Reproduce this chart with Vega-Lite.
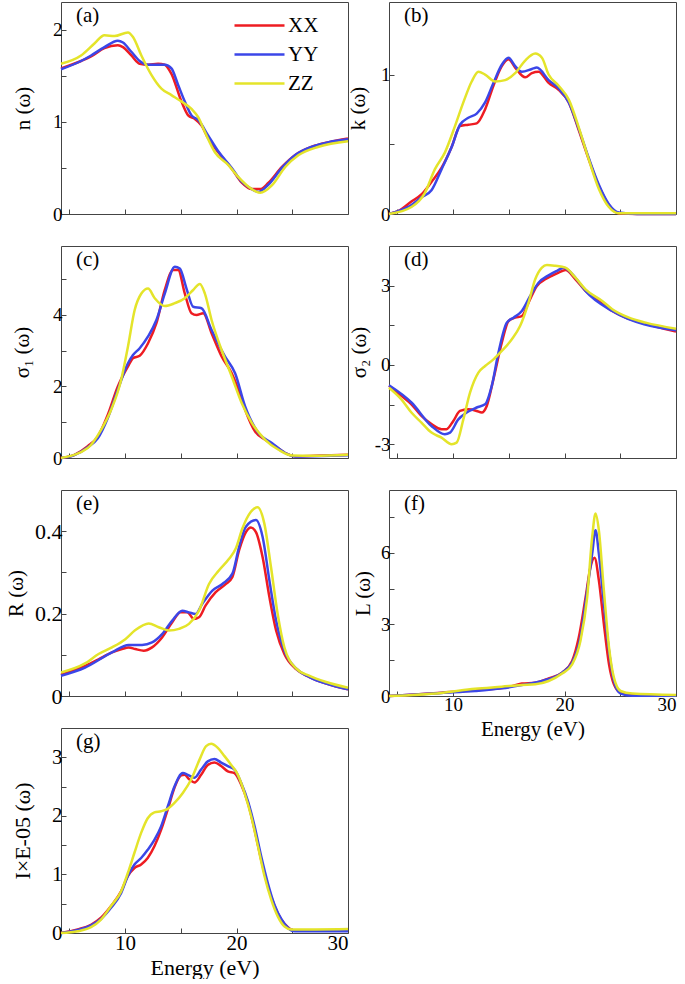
{
"$schema": "https://vega.github.io/schema/vega-lite/v6.json",
"padding": {"left": 5, "top": 1, "right": 0, "bottom": 0},
"columns": 2,
"bounds": "flush",
"align": "each",
"spacing": {"row": 32, "column": 41},
"resolve": {"legend": {"color": "independent"}},
"config": {
  "font": "Liberation Serif",
  "view": {"stroke": "#444", "strokeWidth": 1},
  "axis": {"grid": false, "domain": false, "tickSize": -5, "tickColor": "#444", "labelFont": "Liberation Serif", "labelFontSize": 19, "labelColor": "#000", "titleFont": "Liberation Serif", "titleFontSize": 21, "titleFontWeight": "normal", "titleColor": "#000", "labelPadding": 4},
  "title": {"font": "Liberation Serif", "fontSize": 21, "fontWeight": "normal", "anchor": "start", "frame": "group", "offset": -24, "dx": 15, "color": "#000"},
  "line": {"strokeWidth": 2.5, "interpolate": "monotone"}
},
"datasets": {
"a": [
{"E":4.25,"s":"XX","v":1.58},{"E":6.05,"s":"XX","v":1.66},{"E":6.95,"s":"XX","v":1.71},{"E":8.15,"s":"XX","v":1.80},{"E":9.35,"s":"XX","v":1.83},{"E":9.81,"s":"XX","v":1.81},{"E":10.56,"s":"XX","v":1.72},{"E":11.31,"s":"XX","v":1.63},{"E":12.06,"s":"XX","v":1.62},{"E":12.96,"s":"XX","v":1.63},{"E":13.56,"s":"XX","v":1.62},{"E":14.16,"s":"XX","v":1.52},{"E":15.06,"s":"XX","v":1.22},{"E":15.66,"s":"XX","v":1.07},{"E":16.26,"s":"XX","v":1.03},{"E":16.86,"s":"XX","v":0.96},{"E":17.46,"s":"XX","v":0.82},{"E":18.36,"s":"XX","v":0.67},{"E":19.57,"s":"XX","v":0.49},{"E":20.47,"s":"XX","v":0.34},{"E":21.37,"s":"XX","v":0.27},{"E":22.12,"s":"XX","v":0.27},{"E":22.87,"s":"XX","v":0.34},{"E":24.07,"s":"XX","v":0.51},{"E":25.27,"s":"XX","v":0.64},{"E":26.77,"s":"XX","v":0.73},{"E":28.27,"s":"XX","v":0.78},{"E":30,"s":"XX","v":0.82},
{"E":4.25,"s":"YY","v":1.57},{"E":6.05,"s":"YY","v":1.66},{"E":6.95,"s":"YY","v":1.72},{"E":8.15,"s":"YY","v":1.81},{"E":9.35,"s":"YY","v":1.88},{"E":9.81,"s":"YY","v":1.86},{"E":10.56,"s":"YY","v":1.76},{"E":11.31,"s":"YY","v":1.66},{"E":12.06,"s":"YY","v":1.62},{"E":12.96,"s":"YY","v":1.62},{"E":13.56,"s":"YY","v":1.62},{"E":14.16,"s":"YY","v":1.58},{"E":14.76,"s":"YY","v":1.40},{"E":15.36,"s":"YY","v":1.22},{"E":15.96,"s":"YY","v":1.07},{"E":16.56,"s":"YY","v":1.02},{"E":17.46,"s":"YY","v":0.85},{"E":18.36,"s":"YY","v":0.68},{"E":19.57,"s":"YY","v":0.50},{"E":20.47,"s":"YY","v":0.35},{"E":21.37,"s":"YY","v":0.27},{"E":21.97,"s":"YY","v":0.24},{"E":22.87,"s":"YY","v":0.32},{"E":24.07,"s":"YY","v":0.50},{"E":25.27,"s":"YY","v":0.64},{"E":26.77,"s":"YY","v":0.73},{"E":28.27,"s":"YY","v":0.78},{"E":30,"s":"YY","v":0.81},
{"E":4.25,"s":"ZZ","v":1.63},{"E":6.05,"s":"ZZ","v":1.72},{"E":7.25,"s":"ZZ","v":1.85},{"E":8.15,"s":"ZZ","v":1.94},{"E":9.05,"s":"ZZ","v":1.93},{"E":10.26,"s":"ZZ","v":1.97},{"E":10.71,"s":"ZZ","v":1.92},{"E":11.46,"s":"ZZ","v":1.72},{"E":12.36,"s":"ZZ","v":1.51},{"E":13.26,"s":"ZZ","v":1.36},{"E":14.16,"s":"ZZ","v":1.29},{"E":15.06,"s":"ZZ","v":1.22},{"E":15.96,"s":"ZZ","v":1.14},{"E":16.56,"s":"ZZ","v":1.05},{"E":17.16,"s":"ZZ","v":0.89},{"E":18.06,"s":"ZZ","v":0.67},{"E":19.27,"s":"ZZ","v":0.53},{"E":20.17,"s":"ZZ","v":0.40},{"E":21.37,"s":"ZZ","v":0.27},{"E":22.12,"s":"ZZ","v":0.23},{"E":23.17,"s":"ZZ","v":0.31},{"E":24.37,"s":"ZZ","v":0.51},{"E":25.57,"s":"ZZ","v":0.64},{"E":27.37,"s":"ZZ","v":0.73},{"E":30,"s":"ZZ","v":0.79}
],
"b": [
{"E":4.25,"s":"XX","v":0},{"E":5.06,"s":"XX","v":0.02},{"E":6.26,"s":"XX","v":0.09},{"E":7.16,"s":"XX","v":0.14},{"E":8.06,"s":"XX","v":0.23},{"E":8.96,"s":"XX","v":0.33},{"E":9.87,"s":"XX","v":0.48},{"E":10.62,"s":"XX","v":0.63},{"E":11.37,"s":"XX","v":0.64},{"E":12.12,"s":"XX","v":0.65},{"E":12.87,"s":"XX","v":0.75},{"E":13.62,"s":"XX","v":0.92},{"E":14.37,"s":"XX","v":1.06},{"E":14.97,"s":"XX","v":1.11},{"E":15.57,"s":"XX","v":1.05},{"E":16.47,"s":"XX","v":0.98},{"E":17.07,"s":"XX","v":1.01},{"E":17.67,"s":"XX","v":1.02},{"E":18.57,"s":"XX","v":0.94},{"E":19.47,"s":"XX","v":0.89},{"E":20.38,"s":"XX","v":0.80},{"E":21.28,"s":"XX","v":0.60},{"E":22.18,"s":"XX","v":0.39},{"E":23.08,"s":"XX","v":0.20},{"E":23.98,"s":"XX","v":0.065},{"E":24.88,"s":"XX","v":0.005},{"E":26.5,"s":"XX","v":0},{"E":30,"s":"XX","v":0},
{"E":4.25,"s":"YY","v":0},{"E":5.06,"s":"YY","v":0.02},{"E":6.26,"s":"YY","v":0.065},{"E":7.16,"s":"YY","v":0.12},{"E":8.06,"s":"YY","v":0.17},{"E":8.96,"s":"YY","v":0.32},{"E":9.87,"s":"YY","v":0.48},{"E":10.62,"s":"YY","v":0.64},{"E":11.37,"s":"YY","v":0.69},{"E":12.12,"s":"YY","v":0.72},{"E":12.87,"s":"YY","v":0.80},{"E":13.62,"s":"YY","v":0.94},{"E":14.37,"s":"YY","v":1.07},{"E":14.97,"s":"YY","v":1.12},{"E":15.57,"s":"YY","v":1.06},{"E":16.17,"s":"YY","v":1.02},{"E":17.07,"s":"YY","v":1.04},{"E":17.52,"s":"YY","v":1.05},{"E":18.57,"s":"YY","v":0.96},{"E":19.47,"s":"YY","v":0.90},{"E":20.38,"s":"YY","v":0.80},{"E":21.28,"s":"YY","v":0.61},{"E":22.18,"s":"YY","v":0.40},{"E":23.08,"s":"YY","v":0.21},{"E":23.98,"s":"YY","v":0.07},{"E":24.88,"s":"YY","v":0.01},{"E":26.5,"s":"YY","v":0},{"E":30,"s":"YY","v":0},
{"E":4.25,"s":"ZZ","v":0},{"E":6.26,"s":"ZZ","v":0.05},{"E":7.46,"s":"ZZ","v":0.15},{"E":8.36,"s":"ZZ","v":0.32},{"E":9.26,"s":"ZZ","v":0.44},{"E":10.17,"s":"ZZ","v":0.63},{"E":10.92,"s":"ZZ","v":0.80},{"E":11.67,"s":"ZZ","v":0.95},{"E":12.27,"s":"ZZ","v":1.02},{"E":12.87,"s":"ZZ","v":1.00},{"E":13.77,"s":"ZZ","v":0.95},{"E":14.67,"s":"ZZ","v":0.96},{"E":15.57,"s":"ZZ","v":1.01},{"E":16.47,"s":"ZZ","v":1.10},{"E":17.37,"s":"ZZ","v":1.15},{"E":17.97,"s":"ZZ","v":1.12},{"E":18.57,"s":"ZZ","v":1.00},{"E":19.47,"s":"ZZ","v":0.92},{"E":20.38,"s":"ZZ","v":0.82},{"E":21.28,"s":"ZZ","v":0.62},{"E":22.18,"s":"ZZ","v":0.39},{"E":23.08,"s":"ZZ","v":0.18},{"E":23.98,"s":"ZZ","v":0.05},{"E":24.88,"s":"ZZ","v":0.005},{"E":30,"s":"ZZ","v":0.005}
],
"c": [
{"E":4.25,"s":"XX","v":0},{"E":5.45,"s":"XX","v":0.09},{"E":6.65,"s":"XX","v":0.33},{"E":7.55,"s":"XX","v":0.6},{"E":8.45,"s":"XX","v":1.21},{"E":9.35,"s":"XX","v":2.0},{"E":10.26,"s":"XX","v":2.56},{"E":10.71,"s":"XX","v":2.79},{"E":11.31,"s":"XX","v":2.86},{"E":12.06,"s":"XX","v":3.21},{"E":12.81,"s":"XX","v":3.77},{"E":13.56,"s":"XX","v":4.70},{"E":14.31,"s":"XX","v":5.26},{"E":14.76,"s":"XX","v":5.26},{"E":15.36,"s":"XX","v":4.6},{"E":15.96,"s":"XX","v":4.05},{"E":16.41,"s":"XX","v":4.0},{"E":17.01,"s":"XX","v":4.05},{"E":17.76,"s":"XX","v":3.49},{"E":18.66,"s":"XX","v":2.84},{"E":19.57,"s":"XX","v":2.37},{"E":20.17,"s":"XX","v":1.91},{"E":20.77,"s":"XX","v":1.35},{"E":21.67,"s":"XX","v":0.74},{"E":22.57,"s":"XX","v":0.51},{"E":23.47,"s":"XX","v":0.33},{"E":24.37,"s":"XX","v":0.14},{"E":25.27,"s":"XX","v":0.05},{"E":27,"s":"XX","v":0.06},{"E":30,"s":"XX","v":0.09},
{"E":4.25,"s":"YY","v":0},{"E":5.45,"s":"YY","v":0.08},{"E":6.65,"s":"YY","v":0.30},{"E":7.55,"s":"YY","v":0.55},{"E":8.45,"s":"YY","v":1.12},{"E":9.35,"s":"YY","v":1.91},{"E":10.26,"s":"YY","v":2.65},{"E":10.71,"s":"YY","v":2.88},{"E":11.31,"s":"YY","v":3.07},{"E":12.06,"s":"YY","v":3.40},{"E":12.81,"s":"YY","v":3.86},{"E":13.56,"s":"YY","v":4.6},{"E":14.46,"s":"YY","v":5.35},{"E":14.91,"s":"YY","v":5.30},{"E":15.51,"s":"YY","v":4.74},{"E":16.11,"s":"YY","v":4.23},{"E":16.86,"s":"YY","v":4.19},{"E":17.76,"s":"YY","v":3.58},{"E":18.96,"s":"YY","v":2.84},{"E":19.87,"s":"YY","v":2.37},{"E":20.77,"s":"YY","v":1.44},{"E":21.97,"s":"YY","v":0.70},{"E":23.17,"s":"YY","v":0.42},{"E":24.37,"s":"YY","v":0.14},{"E":25.27,"s":"YY","v":0.04},{"E":27,"s":"YY","v":0.05},{"E":30,"s":"YY","v":0.08},
{"E":4.25,"s":"ZZ","v":0},{"E":6.65,"s":"ZZ","v":0.28},{"E":7.85,"s":"ZZ","v":0.79},{"E":8.75,"s":"ZZ","v":1.35},{"E":9.65,"s":"ZZ","v":2.19},{"E":10.26,"s":"ZZ","v":3.12},{"E":10.86,"s":"ZZ","v":4.14},{"E":11.46,"s":"ZZ","v":4.6},{"E":12.06,"s":"ZZ","v":4.74},{"E":12.66,"s":"ZZ","v":4.47},{"E":13.56,"s":"ZZ","v":4.25},{"E":14.46,"s":"ZZ","v":4.33},{"E":15.36,"s":"ZZ","v":4.47},{"E":16.11,"s":"ZZ","v":4.7},{"E":16.71,"s":"ZZ","v":4.87},{"E":17.16,"s":"ZZ","v":4.6},{"E":17.76,"s":"ZZ","v":3.86},{"E":18.66,"s":"ZZ","v":3.02},{"E":19.57,"s":"ZZ","v":2.28},{"E":20.47,"s":"ZZ","v":1.53},{"E":21.37,"s":"ZZ","v":0.98},{"E":22.57,"s":"ZZ","v":0.51},{"E":23.77,"s":"ZZ","v":0.23},{"E":24.97,"s":"ZZ","v":0.07},{"E":27,"s":"ZZ","v":0.06},{"E":30,"s":"ZZ","v":0.09}
],
"d": [
{"E":4.25,"s":"XX","v":-0.79},{"E":5.36,"s":"XX","v":-1.17},{"E":6.26,"s":"XX","v":-1.49},{"E":7.16,"s":"XX","v":-1.93},{"E":8.06,"s":"XX","v":-2.24},{"E":8.96,"s":"XX","v":-2.43},{"E":9.41,"s":"XX","v":-2.43},{"E":10.02,"s":"XX","v":-2.12},{"E":10.62,"s":"XX","v":-1.74},{"E":11.37,"s":"XX","v":-1.68},{"E":12.12,"s":"XX","v":-1.74},{"E":12.57,"s":"XX","v":-1.80},{"E":13.02,"s":"XX","v":-1.55},{"E":13.62,"s":"XX","v":-0.54},{"E":14.37,"s":"XX","v":0.84},{"E":14.97,"s":"XX","v":1.66},{"E":15.57,"s":"XX","v":1.79},{"E":16.17,"s":"XX","v":1.85},{"E":16.77,"s":"XX","v":2.36},{"E":17.52,"s":"XX","v":2.99},{"E":18.27,"s":"XX","v":3.24},{"E":18.87,"s":"XX","v":3.37},{"E":19.47,"s":"XX","v":3.49},{"E":20.08,"s":"XX","v":3.59},{"E":20.98,"s":"XX","v":3.24},{"E":21.88,"s":"XX","v":2.80},{"E":23.08,"s":"XX","v":2.42},{"E":24.28,"s":"XX","v":2.04},{"E":25.48,"s":"XX","v":1.79},{"E":26.68,"s":"XX","v":1.63},{"E":28.18,"s":"XX","v":1.45},{"E":30,"s":"XX","v":1.26},
{"E":4.25,"s":"YY","v":-0.77},{"E":6.26,"s":"YY","v":-1.42},{"E":8.06,"s":"YY","v":-2.31},{"E":9.26,"s":"YY","v":-2.62},{"E":9.72,"s":"YY","v":-2.56},{"E":10.47,"s":"YY","v":-2.06},{"E":11.22,"s":"YY","v":-1.80},{"E":12.12,"s":"YY","v":-1.61},{"E":12.87,"s":"YY","v":-1.49},{"E":13.47,"s":"YY","v":-0.79},{"E":14.07,"s":"YY","v":0.47},{"E":14.82,"s":"YY","v":1.60},{"E":15.42,"s":"YY","v":1.79},{"E":16.17,"s":"YY","v":2.04},{"E":16.92,"s":"YY","v":2.61},{"E":17.67,"s":"YY","v":3.11},{"E":18.57,"s":"YY","v":3.39},{"E":19.32,"s":"YY","v":3.56},{"E":19.93,"s":"YY","v":3.68},{"E":20.98,"s":"YY","v":3.30},{"E":21.88,"s":"YY","v":2.80},{"E":24.28,"s":"YY","v":2.04},{"E":30,"s":"YY","v":1.31},
{"E":4.25,"s":"ZZ","v":-0.86},{"E":5.36,"s":"ZZ","v":-1.30},{"E":6.26,"s":"ZZ","v":-1.80},{"E":7.16,"s":"ZZ","v":-2.18},{"E":8.06,"s":"ZZ","v":-2.56},{"E":8.96,"s":"ZZ","v":-2.75},{"E":9.87,"s":"ZZ","v":-3.0},{"E":10.32,"s":"ZZ","v":-2.94},{"E":10.92,"s":"ZZ","v":-2.06},{"E":11.52,"s":"ZZ","v":-1.05},{"E":12.27,"s":"ZZ","v":-0.29},{"E":12.87,"s":"ZZ","v":-0.04},{"E":13.62,"s":"ZZ","v":0.21},{"E":14.37,"s":"ZZ","v":0.53},{"E":15.27,"s":"ZZ","v":0.97},{"E":16.02,"s":"ZZ","v":1.48},{"E":16.77,"s":"ZZ","v":2.36},{"E":17.37,"s":"ZZ","v":3.24},{"E":17.97,"s":"ZZ","v":3.68},{"E":18.42,"s":"ZZ","v":3.78},{"E":19.17,"s":"ZZ","v":3.75},{"E":20.08,"s":"ZZ","v":3.68},{"E":20.98,"s":"ZZ","v":3.30},{"E":21.88,"s":"ZZ","v":2.86},{"E":23.38,"s":"ZZ","v":2.42},{"E":24.28,"s":"ZZ","v":2.11},{"E":25.78,"s":"ZZ","v":1.79},{"E":27.28,"s":"ZZ","v":1.60},{"E":30,"s":"ZZ","v":1.37}
],
"e": [
{"E":4.25,"s":"XX","v":0.051},{"E":5.21,"s":"XX","v":0.061},{"E":6.41,"s":"XX","v":0.073},{"E":7.62,"s":"XX","v":0.089},{"E":8.82,"s":"XX","v":0.106},{"E":9.72,"s":"XX","v":0.114},{"E":10.32,"s":"XX","v":0.118},{"E":10.92,"s":"XX","v":0.114},{"E":11.67,"s":"XX","v":0.110},{"E":12.42,"s":"XX","v":0.118},{"E":13.32,"s":"XX","v":0.142},{"E":14.23,"s":"XX","v":0.179},{"E":14.98,"s":"XX","v":0.203},{"E":15.58,"s":"XX","v":0.203},{"E":16.18,"s":"XX","v":0.187},{"E":16.63,"s":"XX","v":0.191},{"E":17.23,"s":"XX","v":0.220},{"E":18.13,"s":"XX","v":0.252},{"E":19.05,"s":"XX","v":0.272},{"E":19.63,"s":"XX","v":0.289},{"E":20.23,"s":"XX","v":0.354},{"E":20.84,"s":"XX","v":0.398},{"E":21.29,"s":"XX","v":0.409},{"E":21.74,"s":"XX","v":0.398},{"E":22.34,"s":"XX","v":0.337},{"E":22.95,"s":"XX","v":0.240},{"E":23.55,"s":"XX","v":0.159},{"E":24.29,"s":"XX","v":0.102},{"E":25.34,"s":"XX","v":0.065},{"E":26.55,"s":"XX","v":0.046},{"E":28.05,"s":"XX","v":0.030},{"E":30,"s":"XX","v":0.016},
{"E":4.25,"s":"YY","v":0.049},{"E":6.41,"s":"YY","v":0.069},{"E":8.82,"s":"YY","v":0.106},{"E":10.32,"s":"YY","v":0.124},{"E":11.52,"s":"YY","v":0.124},{"E":12.42,"s":"YY","v":0.130},{"E":13.32,"s":"YY","v":0.150},{"E":14.23,"s":"YY","v":0.183},{"E":15.13,"s":"YY","v":0.207},{"E":15.73,"s":"YY","v":0.203},{"E":16.33,"s":"YY","v":0.199},{"E":16.93,"s":"YY","v":0.224},{"E":17.83,"s":"YY","v":0.256},{"E":18.73,"s":"YY","v":0.272},{"E":19.63,"s":"YY","v":0.297},{"E":20.23,"s":"YY","v":0.362},{"E":20.84,"s":"YY","v":0.411},{"E":21.74,"s":"YY","v":0.427},{"E":22.34,"s":"YY","v":0.386},{"E":22.95,"s":"YY","v":0.280},{"E":23.55,"s":"YY","v":0.183},{"E":24.29,"s":"YY","v":0.110},{"E":25.34,"s":"YY","v":0.067},{"E":26.55,"s":"YY","v":0.046},{"E":28.05,"s":"YY","v":0.030},{"E":30,"s":"YY","v":0.016},
{"E":4.25,"s":"ZZ","v":0.057},{"E":6.41,"s":"ZZ","v":0.079},{"E":7.62,"s":"ZZ","v":0.102},{"E":8.82,"s":"ZZ","v":0.118},{"E":10.02,"s":"ZZ","v":0.138},{"E":10.92,"s":"ZZ","v":0.160},{"E":12.12,"s":"ZZ","v":0.176},{"E":13.02,"s":"ZZ","v":0.167},{"E":13.93,"s":"ZZ","v":0.159},{"E":14.83,"s":"ZZ","v":0.163},{"E":15.73,"s":"ZZ","v":0.175},{"E":16.63,"s":"ZZ","v":0.207},{"E":17.53,"s":"ZZ","v":0.272},{"E":18.43,"s":"ZZ","v":0.305},{"E":19.33,"s":"ZZ","v":0.333},{"E":19.93,"s":"ZZ","v":0.358},{"E":20.53,"s":"ZZ","v":0.407},{"E":21.29,"s":"ZZ","v":0.447},{"E":21.89,"s":"ZZ","v":0.458},{"E":22.49,"s":"ZZ","v":0.419},{"E":23.09,"s":"ZZ","v":0.313},{"E":23.69,"s":"ZZ","v":0.199},{"E":24.29,"s":"ZZ","v":0.118},{"E":25.34,"s":"ZZ","v":0.067},{"E":26.55,"s":"ZZ","v":0.049},{"E":28.05,"s":"ZZ","v":0.034},{"E":30,"s":"ZZ","v":0.020}
],
"f": [
{"E":4.25,"s":"XX","v":0},{"E":8.96,"s":"XX","v":0.14},{"E":11.97,"s":"XX","v":0.24},{"E":14.97,"s":"XX","v":0.38},{"E":16.17,"s":"XX","v":0.52},{"E":17.37,"s":"XX","v":0.56},{"E":18.57,"s":"XX","v":0.74},{"E":19.78,"s":"XX","v":0.98},{"E":20.68,"s":"XX","v":1.47},{"E":21.28,"s":"XX","v":2.46},{"E":21.89,"s":"XX","v":4.14},{"E":22.33,"s":"XX","v":5.41},{"E":22.69,"s":"XX","v":5.80},{"E":23.08,"s":"XX","v":4.85},{"E":23.53,"s":"XX","v":3.02},{"E":23.99,"s":"XX","v":1.33},{"E":24.43,"s":"XX","v":0.49},{"E":25.03,"s":"XX","v":0.14},{"E":26.08,"s":"XX","v":0.04},{"E":30,"s":"XX","v":0.03},
{"E":4.25,"s":"YY","v":0},{"E":8.96,"s":"YY","v":0.13},{"E":11.97,"s":"YY","v":0.21},{"E":14.37,"s":"YY","v":0.32},{"E":16.17,"s":"YY","v":0.46},{"E":17.97,"s":"YY","v":0.63},{"E":19.78,"s":"YY","v":0.98},{"E":20.68,"s":"YY","v":1.40},{"E":21.43,"s":"YY","v":2.46},{"E":22.03,"s":"YY","v":4.42},{"E":22.48,"s":"YY","v":5.97},{"E":22.78,"s":"YY","v":6.95},{"E":23.08,"s":"YY","v":5.97},{"E":23.53,"s":"YY","v":3.86},{"E":23.99,"s":"YY","v":1.90},{"E":24.43,"s":"YY","v":0.63},{"E":25.03,"s":"YY","v":0.10},{"E":26.08,"s":"YY","v":0.01},{"E":30,"s":"YY","v":0.01},
{"E":4.25,"s":"ZZ","v":0},{"E":8.96,"s":"ZZ","v":0.13},{"E":11.97,"s":"ZZ","v":0.30},{"E":14.37,"s":"ZZ","v":0.39},{"E":16.17,"s":"ZZ","v":0.46},{"E":17.37,"s":"ZZ","v":0.49},{"E":18.57,"s":"ZZ","v":0.63},{"E":19.78,"s":"ZZ","v":0.94},{"E":20.68,"s":"ZZ","v":1.33},{"E":21.43,"s":"ZZ","v":2.32},{"E":22.03,"s":"ZZ","v":4.14},{"E":22.48,"s":"ZZ","v":6.67},{"E":22.78,"s":"ZZ","v":7.65},{"E":23.08,"s":"ZZ","v":6.95},{"E":23.53,"s":"ZZ","v":4.42},{"E":23.99,"s":"ZZ","v":2.04},{"E":24.43,"s":"ZZ","v":0.77},{"E":25.03,"s":"ZZ","v":0.21},{"E":26.08,"s":"ZZ","v":0.10},{"E":30,"s":"ZZ","v":0.04}
],
"g": [
{"E":4.25,"s":"XX","v":0},{"E":5.75,"s":"XX","v":0.06},{"E":6.94,"s":"XX","v":0.14},{"E":7.84,"s":"XX","v":0.26},{"E":8.74,"s":"XX","v":0.46},{"E":9.64,"s":"XX","v":0.71},{"E":10.24,"s":"XX","v":0.97},{"E":10.84,"s":"XX","v":1.11},{"E":11.44,"s":"XX","v":1.17},{"E":12.03,"s":"XX","v":1.28},{"E":12.63,"s":"XX","v":1.48},{"E":13.23,"s":"XX","v":1.76},{"E":13.83,"s":"XX","v":2.11},{"E":14.43,"s":"XX","v":2.48},{"E":15.03,"s":"XX","v":2.69},{"E":15.33,"s":"XX","v":2.70},{"E":15.78,"s":"XX","v":2.62},{"E":16.23,"s":"XX","v":2.57},{"E":16.82,"s":"XX","v":2.70},{"E":17.42,"s":"XX","v":2.87},{"E":18.02,"s":"XX","v":2.91},{"E":18.62,"s":"XX","v":2.85},{"E":19.22,"s":"XX","v":2.76},{"E":19.82,"s":"XX","v":2.73},{"E":20.42,"s":"XX","v":2.53},{"E":21.02,"s":"XX","v":2.22},{"E":21.62,"s":"XX","v":1.76},{"E":22.21,"s":"XX","v":1.25},{"E":22.81,"s":"XX","v":0.80},{"E":23.41,"s":"XX","v":0.46},{"E":24.01,"s":"XX","v":0.23},{"E":24.61,"s":"XX","v":0.10},{"E":25.21,"s":"XX","v":0.04},{"E":30,"s":"XX","v":0.045},
{"E":4.25,"s":"YY","v":0},{"E":5.75,"s":"YY","v":0.05},{"E":6.94,"s":"YY","v":0.13},{"E":7.84,"s":"YY","v":0.24},{"E":8.74,"s":"YY","v":0.43},{"E":9.64,"s":"YY","v":0.68},{"E":10.24,"s":"YY","v":0.97},{"E":10.84,"s":"YY","v":1.17},{"E":11.44,"s":"YY","v":1.28},{"E":12.03,"s":"YY","v":1.42},{"E":12.63,"s":"YY","v":1.59},{"E":13.23,"s":"YY","v":1.82},{"E":13.83,"s":"YY","v":2.16},{"E":14.43,"s":"YY","v":2.50},{"E":15.18,"s":"YY","v":2.73},{"E":15.63,"s":"YY","v":2.70},{"E":16.23,"s":"YY","v":2.65},{"E":16.82,"s":"YY","v":2.79},{"E":17.42,"s":"YY","v":2.93},{"E":18.02,"s":"YY","v":2.97},{"E":18.62,"s":"YY","v":2.91},{"E":19.22,"s":"YY","v":2.85},{"E":19.82,"s":"YY","v":2.79},{"E":20.42,"s":"YY","v":2.56},{"E":21.02,"s":"YY","v":2.25},{"E":21.62,"s":"YY","v":1.82},{"E":22.21,"s":"YY","v":1.31},{"E":22.81,"s":"YY","v":0.85},{"E":23.41,"s":"YY","v":0.48},{"E":24.01,"s":"YY","v":0.24},{"E":24.61,"s":"YY","v":0.09},{"E":25.21,"s":"YY","v":0.03},{"E":30,"s":"YY","v":0.03},
{"E":4.25,"s":"ZZ","v":0},{"E":5.75,"s":"ZZ","v":0.03},{"E":6.94,"s":"ZZ","v":0.10},{"E":7.84,"s":"ZZ","v":0.23},{"E":8.74,"s":"ZZ","v":0.46},{"E":9.64,"s":"ZZ","v":0.71},{"E":10.24,"s":"ZZ","v":1.02},{"E":10.84,"s":"ZZ","v":1.37},{"E":11.44,"s":"ZZ","v":1.71},{"E":12.03,"s":"ZZ","v":1.96},{"E":12.63,"s":"ZZ","v":2.06},{"E":13.23,"s":"ZZ","v":2.08},{"E":13.83,"s":"ZZ","v":2.12},{"E":14.43,"s":"ZZ","v":2.22},{"E":15.18,"s":"ZZ","v":2.39},{"E":15.93,"s":"ZZ","v":2.62},{"E":16.68,"s":"ZZ","v":2.96},{"E":17.27,"s":"ZZ","v":3.19},{"E":17.72,"s":"ZZ","v":3.23},{"E":18.32,"s":"ZZ","v":3.16},{"E":18.92,"s":"ZZ","v":3.02},{"E":19.52,"s":"ZZ","v":2.87},{"E":20.12,"s":"ZZ","v":2.70},{"E":20.72,"s":"ZZ","v":2.39},{"E":21.32,"s":"ZZ","v":1.99},{"E":21.92,"s":"ZZ","v":1.48},{"E":22.51,"s":"ZZ","v":0.97},{"E":23.11,"s":"ZZ","v":0.57},{"E":23.71,"s":"ZZ","v":0.28},{"E":24.31,"s":"ZZ","v":0.11},{"E":24.91,"s":"ZZ","v":0.06},{"E":30,"s":"ZZ","v":0.07}
]
},
"concat": [
{"title": "(a)", "width": 287, "height": 212, "data": {"name": "a"}, "mark": "line",
 "encoding": {
  "x": {"field": "E", "type": "quantitative", "scale": {"domain": [4.25, 30], "nice": false}, "axis": {"values": [5,10,15,20,25,30], "labels": false, "title": null}},
  "y": {"field": "v", "type": "quantitative", "scale": {"domain": [0, 2.3], "nice": false, "zero": false}, "axis": {"values": [0,0.5,1,1.5,2], "labelExpr": "datum.value % 1 === 0 ? datum.value + '' : ''", "title": "n (ω)", "titlePadding": 19}},
  "color": {"field": "s", "type": "nominal", "scale": {"domain": ["XX","YY","ZZ"], "range": ["#ee1c22","#3b46e8","#e4e42a"]},
   "legend": {"orient": "none", "legendX": 188, "legendY": 13, "title": null, "symbolType": "M-5,0H5", "symbolSize": 100, "symbolStrokeWidth": 3, "labelFont": "Liberation Serif", "labelFontSize": 21, "labelColor": "#000", "rowPadding": 7, "labelOffset": 18, "padding": 0}}
 }},
{"title": "(b)", "width": 287, "height": 212, "data": {"name": "b"}, "mark": "line",
 "encoding": {
  "x": {"field": "E", "type": "quantitative", "scale": {"domain": [4.25, 30], "nice": false}, "axis": {"values": [5,10,15,20,25,30], "labels": false, "title": null}},
  "y": {"field": "v", "type": "quantitative", "scale": {"domain": [0, 1.52], "nice": false, "zero": false}, "axis": {"values": [0,0.5,1], "labelExpr": "datum.value % 1 === 0 ? datum.value + '' : ''", "title": "k (ω)", "titlePadding": 12}},
  "color": {"field": "s", "type": "nominal", "scale": {"domain": ["XX","YY","ZZ"], "range": ["#ee1c22","#3b46e8","#e4e42a"]}, "legend": null}
 }},
{"title": "(c)", "width": 287, "height": 212, "data": {"name": "c"}, "mark": "line",
 "encoding": {
  "x": {"field": "E", "type": "quantitative", "scale": {"domain": [4.25, 30], "nice": false}, "axis": {"values": [5,10,15,20,25,30], "labels": false, "title": null}},
  "y": {"field": "v", "type": "quantitative", "scale": {"domain": [0, 5.93], "nice": false, "zero": false}, "axis": {"values": [0,1,2,3,4,5], "labelExpr": "datum.value % 2 === 0 ? datum.value + '' : ''", "title": "σ₁ (ω)", "titlePadding": 20}},
  "color": {"field": "s", "type": "nominal", "scale": {"domain": ["XX","YY","ZZ"], "range": ["#ee1c22","#3b46e8","#e4e42a"]}, "legend": null}
 }},
{"title": "(d)", "width": 287, "height": 212, "data": {"name": "d"}, "mark": "line",
 "encoding": {
  "x": {"field": "E", "type": "quantitative", "scale": {"domain": [4.25, 30], "nice": false}, "axis": {"values": [5,10,15,20,25,30], "labels": false, "title": null}},
  "y": {"field": "v", "type": "quantitative", "scale": {"domain": [-3.52, 4.5], "nice": false, "zero": false}, "axis": {"values": [-3,-1.5,0,1.5,3], "labelExpr": "datum.value % 3 === 0 ? datum.value + '' : ''", "title": "σ₂ (ω)", "titlePadding": 5}},
  "color": {"field": "s", "type": "nominal", "scale": {"domain": ["XX","YY","ZZ"], "range": ["#ee1c22","#3b46e8","#e4e42a"]}, "legend": null}
 }},
{"title": "(e)", "width": 287, "height": 206, "data": {"name": "e"}, "mark": "line",
 "encoding": {
  "x": {"field": "E", "type": "quantitative", "scale": {"domain": [4.25, 30], "nice": false}, "axis": {"values": [5,10,15,20,25,30], "labels": false, "title": null}},
  "y": {"field": "v", "type": "quantitative", "scale": {"domain": [0, 0.5], "nice": false, "zero": false}, "axis": {"values": [0,0.1,0.2,0.3,0.4], "labelExpr": "round(datum.value*10) % 2 === 0 ? datum.value + '' : ''", "labelFontSize": 22, "title": "R (ω)", "titlePadding": 8}},
  "color": {"field": "s", "type": "nominal", "scale": {"domain": ["XX","YY","ZZ"], "range": ["#ee1c22","#3b46e8","#e4e42a"]}, "legend": null}
 }},
{"title": "(f)", "width": 287, "height": 206, "data": {"name": "f"}, "mark": "line",
 "encoding": {
  "x": {"field": "E", "type": "quantitative", "scale": {"domain": [4.25, 30], "nice": false}, "axis": {"values": [5,10,15,20,25,30], "labelExpr": "datum.value % 10 === 0 ? datum.value + '' : ''", "title": "Energy (eV)"}},
  "y": {"field": "v", "type": "quantitative", "scale": {"domain": [0, 8.64], "nice": false, "zero": false}, "axis": {"values": [0,1.5,3,4.5,6,7.5], "labelExpr": "datum.value % 3 === 0 ? datum.value + '' : ''", "title": "L (ω)", "titlePadding": 7}},
  "color": {"field": "s", "type": "nominal", "scale": {"domain": ["XX","YY","ZZ"], "range": ["#ee1c22","#3b46e8","#e4e42a"]}, "legend": null}
 }},
{"title": "(g)", "width": 287, "height": 205, "data": {"name": "g"}, "mark": "line",
 "encoding": {
  "x": {"field": "E", "type": "quantitative", "scale": {"domain": [4.25, 30], "nice": false}, "axis": {"values": [5,10,15,20,25,30], "labelExpr": "datum.value % 10 === 0 ? datum.value + '' : ''", "labelFontSize": 21, "titleFontSize": 22, "title": "Energy (eV)"}},
  "y": {"field": "v", "type": "quantitative", "scale": {"domain": [0, 3.5], "nice": false, "zero": false}, "axis": {"values": [0,0.5,1,1.5,2,2.5,3], "labelExpr": "datum.value % 1 === 0 ? datum.value + '' : ''", "labelFontSize": 21, "titleFontSize": 22, "title": "I×E-05 (ω)", "titlePadding": 17}},
  "color": {"field": "s", "type": "nominal", "scale": {"domain": ["XX","YY","ZZ"], "range": ["#ee1c22","#3b46e8","#e4e42a"]}, "legend": null}
 }}
]
}
